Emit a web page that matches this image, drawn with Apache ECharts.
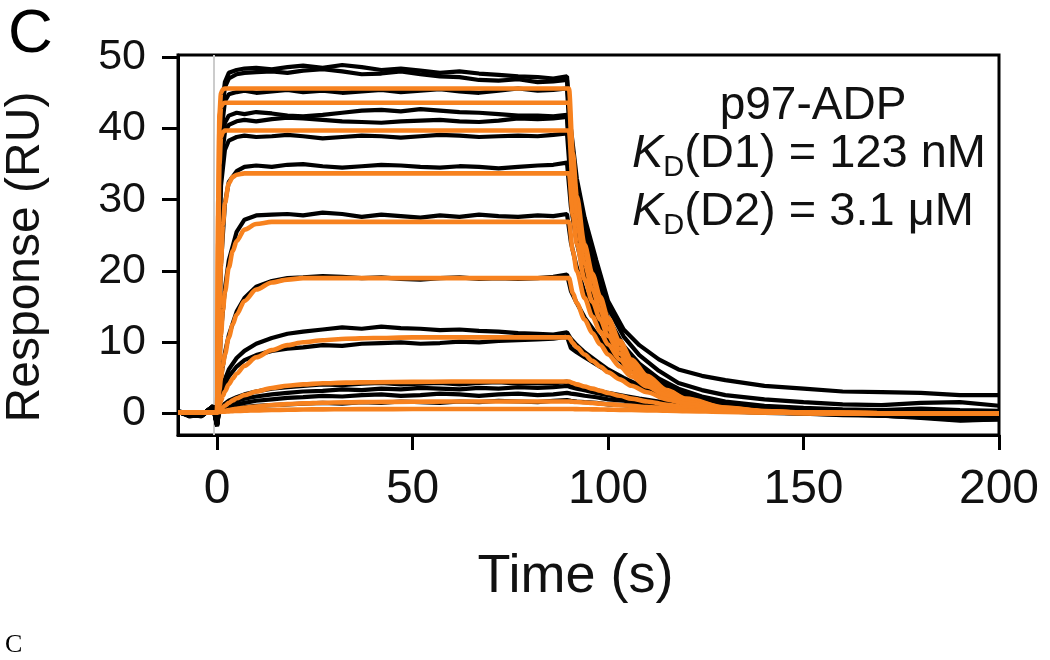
<!DOCTYPE html>
<html><head><meta charset="utf-8">
<script src="https://cdn.jsdelivr.net/npm/echarts@6/dist/echarts.min.js"></script>
<style>html,body{margin:0;padding:0;background:#fff}#c{width:1050px;height:660px}</style>
</head><body><div id="c"></div>
<script>
// ---- axis ticks ----
const xTicks = [0, 50, 100, 150, 200];
const yTicks = [0, 10, 20, 30, 40, 50];

// ---- measured sensorgrams (black), time in s ----
const dataTimes = [-10,-7,-4,-1,0, 0.5,1,2,3,5,7,10,14,18,22,27,32,37,42,47,52,57,62,67,72,77,82,86,89.5, 90.5,92,94,97,100,104,108,113,118,124,130,140,150,160,170,180,190,200];
const data01 = [0.4,-0.2,-0.3,1.1,-1.2, 30,42,46.5,47.8,48.2,48.4,48.5,48.3,48.6,48.8,48.5,48.9,48.6,48.2,48.4,48.1,47.8,48.0,47.7,47.5,47.3,47.2,47.0,47.3, 40,33,27.5,21.5,15.8,11.8,9.6,7.6,6.2,5.3,4.7,3.9,3.5,3.1,3.0,2.9,2.6,2.6];
const data02 = [0.3,-0.4,-0.1,0.8,-1.8, 28,41,45.8,47.0,47.6,47.8,47.9,48.0,47.8,48.1,48.3,48.0,47.6,47.7,48.0,47.6,47.3,47.2,46.8,46.7,46.9,46.5,46.6,46.8, 38,31.5,26,20,14.8,10.8,8.2,6.0,4.3,3.3,2.6,2.0,1.6,1.3,1.2,1.5,1.6,1.1];
const data03 = [0.2,-0.1,-0.4,0.9,-1.5, 27,39,43.8,44.8,45.1,45.3,45.0,45.2,45.4,45.1,45.3,45.0,45.2,45.4,45.1,45.3,45.5,45.2,45.0,45.3,45.6,45.3,45.4,45.6, 37,30,24,18.5,13.4,9.5,7.0,4.9,3.5,2.4,1.7,1.1,0.8,0.6,0.5,0.7,0.5,0.4];
const data04 = [0.3,-0.3,-0.2,1.0,-1.4, 25,36,40.8,41.8,42.2,42.0,42.3,42.1,41.8,41.7,41.9,42.2,42.5,42.6,42.4,42.7,42.5,42.3,42.2,42.0,41.8,41.8,41.7,41.9, 34,28,22.5,17.5,12.7,9.0,6.6,4.6,3.2,2.2,1.5,0.9,0.6,0.4,0.3,0.5,0.3,0.2];
const data05 = [0.2,-0.2,-0.3,0.9,-1.6, 24,35,39.5,40.5,41.0,41.2,41.0,41.3,41.5,41.4,41.2,41.0,40.9,40.8,41.0,41.1,41.2,41.0,40.9,41.1,41.4,41.3,41.4,41.6, 33,27.2,21.8,16.9,12.2,8.7,6.3,4.4,3.0,2.0,1.4,0.8,0.5,0.3,0.2,0.3,0.1,0.0];
const data06 = [0.3,-0.3,-0.2,1.0,-1.5, 22,32,37,38.3,38.8,39.0,38.8,38.9,39.1,38.9,38.6,38.8,39.0,38.9,38.7,38.9,39.1,39.0,38.8,38.9,39.0,38.9,39.1,39.3, 32,26.5,21,16.2,11.8,8.4,6.1,4.2,2.9,1.9,1.3,0.7,0.4,0.2,0.1,0.2,0.0,-0.1];
const data07 = [0.3,-0.2,-0.3,0.9,-1.3, 12,21,29.5,32.5,34.0,34.6,34.8,34.6,34.9,35.0,34.7,34.5,34.7,34.9,34.8,34.6,34.5,34.7,34.6,34.4,34.6,34.8,34.9,35.2, 29,24,19.3,15,11.2,8.0,5.8,4.0,2.8,1.8,1.2,0.6,0.3,0.1,0.0,-0.2,-0.4,-0.3];
const data08 = [0.3,-0.3,-0.2,1.0,-1.6, 6,11.5,17.5,21.5,25.5,27.2,27.8,27.9,28.0,27.8,28.2,28.0,27.6,27.9,27.7,27.5,27.8,27.6,27.9,27.7,27.6,27.8,27.7,28.0, 24,20.5,17,13.5,10.3,7.6,5.6,3.9,2.7,1.8,1.2,0.5,0.2,0.0,-0.2,-0.4,-0.7,-0.5];
const data09 = [0.3,-0.2,-0.3,0.9,-1.4, 2.5,5,8.5,11,14.3,16.2,17.8,18.6,19.0,19.1,19.3,19.2,19.0,19.1,18.9,18.8,19.0,19.1,18.9,19.0,18.9,19.0,19.2,19.5, 17.2,15.5,13.5,11.2,9.0,6.9,5.2,3.7,2.6,1.7,1.1,0.5,0.2,0.0,-0.3,-0.6,-1.0,-0.8];
const data10 = [0.3,-0.3,-0.2,1.0,-1.5, 1.5,2.8,4.8,6.2,7.8,8.8,9.8,10.6,11.2,11.5,11.8,12.1,11.9,12.2,12.0,11.9,11.7,11.8,11.6,11.5,11.3,11.2,11.1,11.4, 10.5,9.6,8.6,7.4,6.2,5.0,4.0,3.0,2.2,1.5,1.0,0.5,0.2,0.1,0.0,-0.1,-0.2,-0.2];
const data11 = [0.2,-0.2,-0.3,0.9,-1.4, 1.2,2.3,4.0,5.2,6.6,7.5,8.2,8.8,9.1,9.3,9.6,9.5,9.8,9.9,10.0,9.8,9.9,10.1,10.0,10.2,10.3,10.4,10.5,10.8, 9.2,8.6,7.9,6.9,5.9,4.8,3.8,2.9,2.1,1.4,1.0,0.4,0.1,0.0,-0.2,-0.3,-0.5,-0.4];
const data12 = [0.3,-0.3,-0.2,1.0,-1.6, 0.5,0.9,1.4,1.8,2.3,2.7,3.1,3.5,3.7,3.9,4.1,4.0,4.2,4.3,4.1,4.2,4.3,4.1,4.3,4.4,4.2,4.3,4.2,4.5, 4.2,4.0,3.7,3.3,2.9,2.5,2.1,1.7,1.3,1.0,0.7,0.4,0.2,0.1,0.0,-0.1,-0.1,0.0];
const data13 = [0.2,-0.2,-0.3,0.9,-1.5, 0.4,0.7,1.1,1.4,1.8,2.1,2.4,2.7,2.9,3.1,3.2,3.4,3.3,3.5,3.4,3.6,3.5,3.4,3.6,3.5,3.7,3.6,3.7,3.9, 3.7,3.5,3.3,2.9,2.6,2.2,1.9,1.5,1.2,0.9,0.6,0.3,0.1,0.0,-0.2,-0.4,-0.6,-0.5];
const data14 = [0.3,-0.3,-0.2,1.0,-1.7, 0.3,0.5,0.8,1.0,1.3,1.5,1.8,2.0,2.2,2.3,2.5,2.4,2.6,2.7,2.5,2.6,2.8,2.7,2.5,2.7,2.8,2.6,2.7,2.9, 2.8,2.7,2.5,2.3,2.0,1.8,1.5,1.2,1.0,0.7,0.5,0.2,0.0,-0.2,-0.3,-0.5,-0.9,-0.8];
const data15 = [0.2,-0.2,-0.3,0.9,-1.4, 0.2,0.3,0.5,0.6,0.8,0.9,1.1,1.2,1.3,1.4,1.5,1.4,1.6,1.5,1.7,1.6,1.5,1.7,1.6,1.8,1.7,1.6,1.8,1.9, 1.8,1.7,1.6,1.5,1.3,1.2,1.0,0.8,0.6,0.5,0.3,0.1,0.0,-0.1,-0.3,-0.5,-0.7,-0.6];

// ---- fitted curves (orange) ----
const fitTimes = [-10,0,0.3,0.6,1,1.5,2,3,4,5,7,10,14,18,22,27,33,40,50,60,75,90, 91,92,94,96,98,100,103,106,110,115,120,130,140,150,170,200];
const fit01 = [0.2,0.2,30,42,45,45.5, 45.6,45.6,45.6,45.6, 45.6,45.6,45.6,45.6, 45.6,45.6,45.6,45.6, 45.6,45.6,45.6,45.6, 36.5,30.5,23.7,19.6,16.4,13.4,10.2,7.6,5.3,3.3,2.1,0.85,0.35,0.15,0.05,0];
const fit02 = [0.2,0.2,28,40,43,43.5, 43.6,43.6,43.6,43.6, 43.6,43.6,43.6,43.6, 43.6,43.6,43.6,43.6, 43.6,43.6,43.6,43.6, 35,29.3,22.8,18.8,15.7,12.8,9.8,7.3,5.1,3.2,2.0,0.8,0.33,0.14,0.04,0];
const fit03 = [0.2,0.2,24,35,38.8,39.5, 39.7,39.7,39.7,39.7, 39.7,39.7,39.7,39.7, 39.7,39.7,39.7,39.7, 39.7,39.7,39.7,39.7, 32,27,21,17.4,14.5,11.9,9.1,6.8,4.8,3.0,1.9,0.75,0.3,0.13,0.04,0];
const fit04 = [0.2,0.2,9,15,21,26.5,29.5,32.3,33.2,33.5, 33.7,33.7,33.7,33.7, 33.7,33.7,33.7,33.7, 33.7,33.7,33.7,33.7, 27.8,23.8,18.8,15.7,13.2,10.9,8.4,6.4,4.5,2.9,1.8,0.72,0.3,0.12,0.03,0];
const fit05 = [0.2,0.2,4,7.5,11,14.5,17,20.5,22.8,24.2,25.8,26.6, 26.9,26.9,26.9,26.9,26.9, 26.9,26.9,26.9,26.9,26.9, 22.8,20,16.2,13.6,11.5,9.7,7.6,5.8,4.1,2.7,1.7,0.7,0.28,0.11,0.03,0];
const fit06 = [0.2,0.2,1.8,3.3,5,6.8,8.3,10.7,12.5,13.9,15.8,17.4,18.4,18.8, 19.0,19.0,19.0,19.0, 19.0,19.0,19.0,19.0, 16.9,15.5,13.2,11.3,9.7,8.3,6.6,5.2,3.8,2.5,1.6,0.68,0.28,0.11,0.03,0];
const fit07 = [0.2,0.2,0.7,1.2,1.8,2.5,3.1,4.1,4.9,5.6,6.7,7.9,8.9,9.6,10.0,10.3,10.5,10.6,10.7,10.7,10.7,10.7, 9.9,9.3,8.3,7.4,6.6,5.8,4.8,3.9,3.0,2.0,1.35,0.6,0.25,0.1,0.03,0];
const fit08 = [0.2,0.2,0.3,0.45,0.65,0.9,1.1,1.5,1.85,2.15,2.6,3.1,3.6,3.9,4.1,4.25,4.35,4.4,4.45,4.5,4.5,4.5, 4.3,4.1,3.8,3.5,3.2,2.9,2.5,2.1,1.7,1.25,0.9,0.45,0.2,0.09,0.02,0];
const fit09 = [0.2,0.2,0.22,0.25,0.3,0.35,0.4,0.5,0.6,0.68,0.82,1.0,1.2,1.33,1.43,1.52,1.58,1.63,1.67,1.7,1.7,1.7, 1.66,1.62,1.55,1.48,1.4,1.32,1.2,1.08,0.93,0.75,0.6,0.36,0.2,0.11,0.03,0];
const fit10 = [0.2,0.2,0.21,0.22,0.24,0.26,0.28,0.31,0.34,0.37,0.41,0.46,0.51,0.55,0.58,0.6,0.62,0.63,0.64,0.65,0.65,0.65, 0.64,0.63,0.61,0.6,0.58,0.56,0.53,0.5,0.46,0.4,0.35,0.25,0.17,0.1,0.04,0];

const dataSets = [data01,data02,data03,data04,data05,data06,data07,data08,data09,data10,data11,data12,data13,data14,data15];
const fitSets = [fit01,fit02,fit03,fit04,fit05,fit06,fit07,fit08,fit09,fit10];

const FONT = "'Liberation Sans', Arial, Helvetica, sans-serif";
const ORANGE = '#F7821F';

const zip = (ts, vs) => ts.map((t, i) => [t, vs[i]]);

const series = [];
dataSets.forEach((vs, i) => {
  const s = {
    type: 'line', data: zip(dataTimes, vs), symbol: 'none', silent: true,
    lineStyle: { color: '#000', width: 4.2 }, z: 2, clip: true
  };
  if (i === 0) {
    s.markLine = {
      silent: true, symbol: 'none', label: { show: false },
      lineStyle: { color: '#cccccc', width: 2, type: 'solid' },
      data: [{ xAxis: -0.8 }], z: 1
    };
  }
  series.push(s);
});
fitSets.forEach(vs => {
  series.push({
    type: 'line', data: zip(fitTimes, vs), symbol: 'none', silent: true,
    smooth: 0.3, smoothMonotone: 'x',
    lineStyle: { color: ORANGE, width: 4.6 }, z: 3, clip: true
  });
});

const chart = echarts.init(document.getElementById('c'), null, { renderer: 'canvas' });
chart.setOption({
  animation: false,
  backgroundColor: '#fff',
  grid: { left: 178, right: 51, top: 55, bottom: 225, containLabel: false, outerBoundsMode: 'none',
          show: true, borderColor: '#000', borderWidth: 3, backgroundColor: 'transparent' },
  xAxis: {
    type: 'value', min: -10, max: 200,
    axisLine: { show: true, onZero: false, lineStyle: { color: '#000', width: 3 } },
    axisTick: { show: true, inside: false, length: 15, customValues: xTicks, lineStyle: { color: '#000', width: 3 } },
    axisLabel: { show: true, customValues: xTicks, fontSize: 48, margin: 31, color: '#111', fontFamily: FONT },
    splitLine: { show: false },
    name: 'Time (s)', nameLocation: 'middle', nameGap: 115,
    nameTextStyle: { fontSize: 54, color: '#111', fontFamily: FONT, padding: [0, 26, 0, 0] }
  },
  yAxis: {
    type: 'value', min: -3, max: 50.3,
    axisLine: { show: true, onZero: false, lineStyle: { color: '#000', width: 3 } },
    axisTick: { show: true, inside: false, length: 16, customValues: yTicks, lineStyle: { color: '#000', width: 3 } },
    axisLabel: { show: true, customValues: yTicks, fontSize: 43, margin: 32, color: '#111', fontFamily: FONT },
    splitLine: { show: false },
    name: 'Response (RU)', nameLocation: 'middle', nameGap: 128,
    nameTextStyle: { fontSize: 48, color: '#111', fontFamily: FONT, padding: [0, 24, 0, 0] }
  },
  graphic: [
    { type: 'text', left: 8, top: 4, style: { text: 'C', font: '62px ' + FONT, fill: '#000' } },
    { type: 'text', left: 5, top: 632, style: { text: 'C', font: '26px "Liberation Serif", "Times New Roman", serif', fill: '#000' } },
    { type: 'text', x: 813, y: 106, style: { text: 'p97-ADP', font: '46px ' + FONT, fill: '#111', align: 'center', verticalAlign: 'middle' } },
    { type: 'text', x: 632, y: 154, style: {
        text: '{k|K}{s|D}{n|(D1) = 123 nM}', align: 'left', verticalAlign: 'middle', fill: '#111',
        rich: {
          k: { fontSize: 47, fontStyle: 'italic', fontFamily: FONT, lineHeight: 56, fill: '#111' },
          s: { fontSize: 29, fontFamily: FONT, lineHeight: 16, verticalAlign: 'bottom', fill: '#111' },
          n: { fontSize: 47, fontFamily: FONT, lineHeight: 56, fill: '#111' }
        } } },
    { type: 'text', x: 632, y: 212, style: {
        text: '{k|K}{s|D}{n|(D2) = 3.1 \u03BCM}', align: 'left', verticalAlign: 'middle', fill: '#111',
        rich: {
          k: { fontSize: 47, fontStyle: 'italic', fontFamily: FONT, lineHeight: 56, fill: '#111' },
          s: { fontSize: 29, fontFamily: FONT, lineHeight: 16, verticalAlign: 'bottom', fill: '#111' },
          n: { fontSize: 47, fontFamily: FONT, lineHeight: 56, fill: '#111' }
        } } }
  ],
  series: series
});
</script></body></html>
